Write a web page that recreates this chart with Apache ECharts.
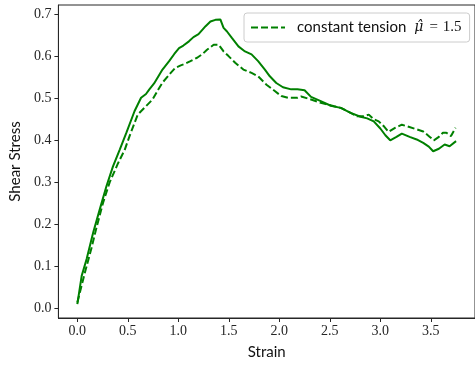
<!DOCTYPE html>
<html>
<head>
<meta charset="utf-8">
<script src="https://cdn.jsdelivr.net/npm/echarts@6/dist/echarts.min.js"></script>
<style>html,body{margin:0;padding:0;background:#fff;}#c{width:475px;height:365px;}</style>
</head>
<body>
<div id="c"></div>
<script>
// Solid curve (no legend entry)
var strainSolid = [0.00,0.043,0.092,0.157,0.222,0.288,0.353,0.42,0.484,0.566,0.631,0.68,0.713,0.76,0.843,0.909,0.96,1.007,1.05,1.105,1.15,1.2,1.27,1.318,1.367,1.416,1.448,1.48,1.53,1.595,1.66,1.725,1.79,1.857,1.906,1.97,2.036,2.118,2.18,2.25,2.314,2.41,2.51,2.608,2.706,2.804,2.87,2.935,3.0,3.05,3.098,3.16,3.213,3.29,3.36,3.425,3.48,3.523,3.58,3.637,3.686,3.75];
var stressSolid = [0.011,0.078,0.118,0.181,0.236,0.291,0.338,0.378,0.417,0.469,0.501,0.510,0.521,0.535,0.568,0.588,0.605,0.619,0.625,0.635,0.645,0.652,0.671,0.682,0.686,0.687,0.667,0.659,0.643,0.623,0.611,0.604,0.588,0.568,0.552,0.536,0.526,0.521,0.521,0.519,0.503,0.493,0.482,0.477,0.465,0.456,0.452,0.445,0.428,0.412,0.400,0.408,0.416,0.408,0.402,0.394,0.385,0.374,0.380,0.390,0.386,0.398];
// Dashed curve: constant tension
var strainDashed = [0.0,0.075,0.141,0.19,0.255,0.32,0.402,0.47,0.517,0.598,0.68,0.745,0.80,0.843,0.925,0.97,1.024,1.07,1.12,1.186,1.24,1.284,1.35,1.4,1.448,1.497,1.563,1.644,1.725,1.79,1.873,1.955,2.02,2.085,2.18,2.216,2.314,2.41,2.48,2.543,2.61,2.706,2.77,2.837,2.886,2.935,2.984,3.04,3.082,3.15,3.213,3.28,3.36,3.425,3.49,3.53,3.58,3.62,3.654,3.7,3.745];
var stressDashed = [0.015,0.086,0.145,0.193,0.252,0.300,0.345,0.378,0.410,0.461,0.481,0.497,0.520,0.537,0.560,0.572,0.578,0.582,0.588,0.596,0.605,0.615,0.627,0.627,0.611,0.600,0.584,0.568,0.560,0.552,0.532,0.517,0.505,0.501,0.501,0.504,0.497,0.489,0.485,0.481,0.477,0.465,0.457,0.457,0.461,0.450,0.445,0.432,0.420,0.430,0.437,0.432,0.426,0.421,0.408,0.400,0.408,0.418,0.418,0.410,0.430];
var xTicks = [0.0,0.5,1.0,1.5,2.0,2.5,3.0,3.5];
var yTicks = [0.0,0.1,0.2,0.3,0.4,0.5,0.6,0.7];
var legendName = 'constant tension';

function zip(a,b){var r=[];for(var i=0;i<a.length;i++)r.push([a[i],b[i]]);return r;}

var chart = echarts.init(document.getElementById('c'));
var tickFont = {fontFamily:'Liberation Serif', fontSize:14, color:'#262626'};
var nameFont = {fontFamily:'Lato', fontSize:15, color:'#111'};
chart.setOption({
  animation:false,
  grid:{left:58, top:5, width:421, height:314, show:true, borderColor:'#262626', borderWidth:1},
  legend:{
    data:[legendName], left:244, top:13, orient:'horizontal',
    padding:[7,8,7,6], itemWidth:34, itemHeight:12,
    itemStyle:{opacity:0},
    backgroundColor:'#fff', borderColor:'#cccccc', borderWidth:1, borderRadius:3,
    textStyle:{fontFamily:'Lato', fontSize:15, color:'#111',
      rich:{t:{fontFamily:'Lato', fontSize:15, color:'#111', padding:[0,0,0,7]},
            m:{fontFamily:'DejaVu Serif', fontStyle:'italic', fontSize:14, color:'#111', padding:[0,0,0,8]},
            e:{fontFamily:'Liberation Serif', fontSize:15, color:'#111', padding:[0,5,0,6]},
            s:{fontFamily:'Liberation Serif', fontSize:15, color:'#111'}}},
    formatter:function(n){return '{t|'+n+'}{m|μ̂}{e|=}{s|1.5}';}
  },
  xAxis:{type:'value', min:-0.1875, max:3.9375, name:'Strain', nameLocation:'middle', nameGap:27,
    nameTextStyle:nameFont,
    axisLine:{show:true, onZero:false, lineStyle:{color:'#262626'}}, splitLine:{show:false},
    axisTick:{show:true, length:4, inside:false, customValues:xTicks, lineStyle:{color:'#262626'}},
    axisLabel:Object.assign({customValues:xTicks, margin:6, formatter:function(v){return v.toFixed(1);}}, tickFont)
  },
  yAxis:{type:'value', min:-0.022, max:0.7213, name:'Shear Stress', nameLocation:'middle', nameGap:31, nameRotate:90,
    nameTextStyle:nameFont,
    axisLine:{show:true, onZero:false, lineStyle:{color:'#262626'}}, splitLine:{show:false},
    axisTick:{show:true, length:4, customValues:yTicks, lineStyle:{color:'#262626'}},
    axisLabel:Object.assign({customValues:yTicks, margin:7, formatter:function(v){return v.toFixed(1);}}, tickFont)
  },
  series:[
    {name:'solid', type:'line', symbol:'none', data:zip(strainSolid,stressSolid),
     lineStyle:{color:'#008000', width:2}, itemStyle:{color:'#008000'}},
    {name:legendName, type:'line', symbol:'none', data:zip(strainDashed,stressDashed),
     lineStyle:{color:'#008000', width:2, type:[7,3]}, itemStyle:{color:'#008000'}}
  ]
});
</script>
</body>
</html>
